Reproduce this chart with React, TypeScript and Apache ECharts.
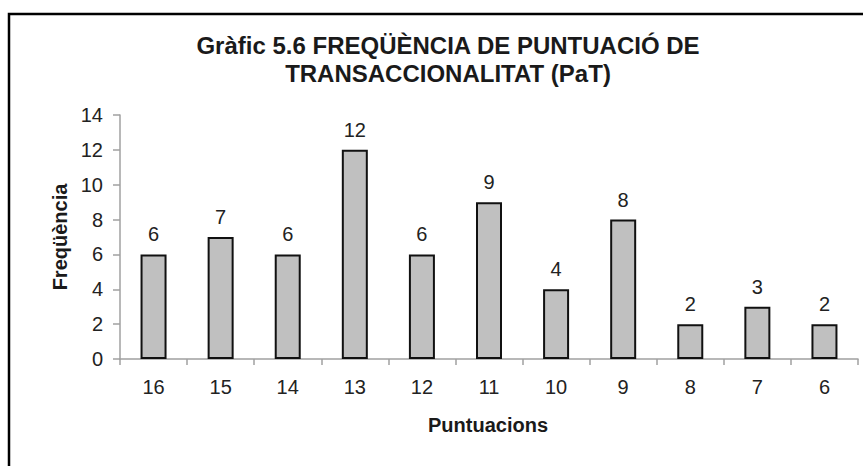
import React, { useEffect, useRef } from "react";
import * as echarts from "echarts";

const categories = ["16", "15", "14", "13", "12", "11", "10", "9", "8", "7", "6"];
const frequencies = [6, 7, 6, 12, 6, 9, 4, 8, 2, 3, 2];
const titleLines = ["Gràfic 5.6 FREQÜÈNCIA DE PUNTUACIÓ DE", "TRANSACCIONALITAT (PaT)"];
const yAxisName = "Freqüència";
const xAxisName = "Puntuacions";

const FONT = "'Liberation Sans', Arial, sans-serif";

export default function App() {
  const ref = useRef<HTMLDivElement>(null);
  useEffect(() => {
    if (!ref.current) return;
    const chart = echarts.init(ref.current, null, { renderer: "svg" });
    chart.setOption({
      animation: false,
      backgroundColor: "#ffffff",
      textStyle: { fontFamily: FONT },
      title: {
        text: titleLines.join("\n"),
        left: 443,
        textAlign: "center",
        top: 26,
        textStyle: { fontFamily: FONT, fontSize: 24, fontWeight: "bold", color: "#1a1a1a", lineHeight: 28 },
      },
      graphic: [
        {
          type: "rect",
          shape: { x: 9, y: 14, width: 920, height: 520 },
          style: { fill: "none", stroke: "#000", lineWidth: 2.5 },
          silent: true,
        },
        {
          type: "text",
          x: 488,
          y: 425,
          style: {
            text: xAxisName,
            font: `bold 20px ${FONT}`,
            fill: "#1a1a1a",
            align: "center",
            verticalAlign: "middle",
          },
        },
      ],
      grid: { left: 120, right: 5, top: 115, bottom: 107, containLabel: false },
      xAxis: {
        type: "category",
        data: categories,
        axisLine: { lineStyle: { color: "#a0a0a0", width: 1.5 } },
        axisTick: { show: true, length: 6, lineStyle: { color: "#a0a0a0", width: 1.5 } },
        axisLabel: { fontFamily: FONT, fontSize: 20, color: "#222", margin: 18 },
      },
      yAxis: {
        type: "value",
        min: 0,
        max: 14,
        interval: 2,
        name: yAxisName,
        nameLocation: "middle",
        nameGap: 48,
        nameTextStyle: { fontFamily: FONT, fontSize: 20, fontWeight: "bold", color: "#1a1a1a" },
        axisLine: { show: true, lineStyle: { color: "#a0a0a0", width: 1.5 } },
        axisTick: { show: true, length: 7, lineStyle: { color: "#a0a0a0", width: 1.5 } },
        axisLabel: { fontFamily: FONT, fontSize: 20, color: "#222", margin: 17 },
        splitLine: { show: false },
      },
      series: [
        {
          type: "bar",
          data: frequencies,
          barWidth: 26,
          itemStyle: { color: "#c0c0c0", borderColor: "#111", borderWidth: 2 },
          label: {
            show: true,
            position: "top",
            distance: 10,
            fontFamily: FONT,
            fontSize: 20,
            color: "#222",
          },
        },
      ],
    });
    return () => chart.dispose();
  }, []);
  return (
    <div
      ref={ref}
      style={{ position: "absolute", left: 0, top: 0, width: 863, height: 466 }}
    />
  );
}
